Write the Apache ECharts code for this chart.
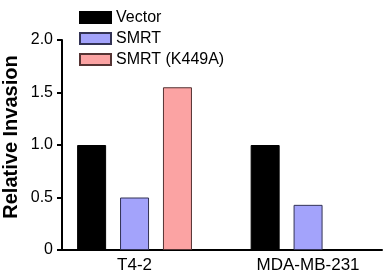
<!DOCTYPE html>
<html>
<head>
<meta charset="utf-8">
<script src="https://cdn.jsdelivr.net/npm/echarts@6/dist/echarts.min.js"></script>
<style>html,body{margin:0;padding:0;background:#fff}#chart{width:389px;height:274px}</style>
</head>
<body>
<div id="chart"></div>
<script>
var categories = ['T4-2', 'MDA-MB-231'];
var seriesNames = ['Vector', 'SMRT', 'SMRT (K449A)'];
var vectorVals = [1.0, 1.0];
var smrtVals = [0.5, 0.43];
var k449aVals = [1.55, null];
var yTicks = [0, 0.5, 1.0, 1.5, 2.0];

(function(){
	var chart = echarts.init(document.getElementById('chart'));
	function pts(vals){
		return vals.map(function(v, i){ return [i + 1, v]; });
	}
	var colors = ['#000000', '#a3a3fb', '#fba3a3'];
	var borders = ['#000000', '#333355', '#553333'];
	var allVals = [vectorVals, smrtVals, k449aVals];
	var font = 'Liberation Sans, Arial, sans-serif';
	var option = {
		animation: false,
		grid: { left: 62, right: 7, top: 40, bottom: 22 },
		legend: {
			orient: 'vertical',
			left: 74, top: 4,
			itemWidth: 31, itemHeight: 11, itemGap: 4,
			icon: 'rect',
			textStyle: { fontSize: 16, lineHeight: 17, color: '#000', fontFamily: font },
			data: seriesNames
		},
		graphic: [{
			type: 'text',
			x: 11, y: 137,
			rotation: Math.PI / 2,
			style: {
				text: 'Relative Invasion',
				font: 'bold 20px ' + font,
				fill: '#000',
				align: 'center',
				verticalAlign: 'middle'
			}
		}],
		xAxis: {
			type: 'value',
			min: 0.582, max: 2.426,
			splitLine: { show: false },
			axisLine: { lineStyle: { color: '#000', width: 2 } },
			axisTick: { show: false },
			axisLabel: {
				customValues: [1, 2],
				formatter: function(v){ return categories[Math.round(v) - 1] || ''; },
				fontSize: 17, color: '#000', fontFamily: font, margin: 7
			}
		},
		yAxis: {
			type: 'value',
			min: 0, max: 2, interval: 0.5,
			splitLine: { show: false },
			axisLine: { show: true, lineStyle: { color: '#000', width: 2 } },
			axisTick: { show: true, length: 5, lineStyle: { color: '#000', width: 2 } },
			axisLabel: {
				customValues: yTicks,
				formatter: function(v){ return v === 0 ? '0' : v.toFixed(1); },
				fontSize: 16, color: '#000', fontFamily: font, margin: 9
			}
		},
		series: seriesNames.map(function(name, k){
			return {
				name: name,
				type: 'bar',
				barWidth: 29,
				barGap: '48%',
				data: pts(allVals[k]),
				itemStyle: { color: colors[k], borderColor: borders[k], borderWidth: 1 }
			};
		})
	};
	chart.setOption(option);
})();
</script>
</body>
</html>
